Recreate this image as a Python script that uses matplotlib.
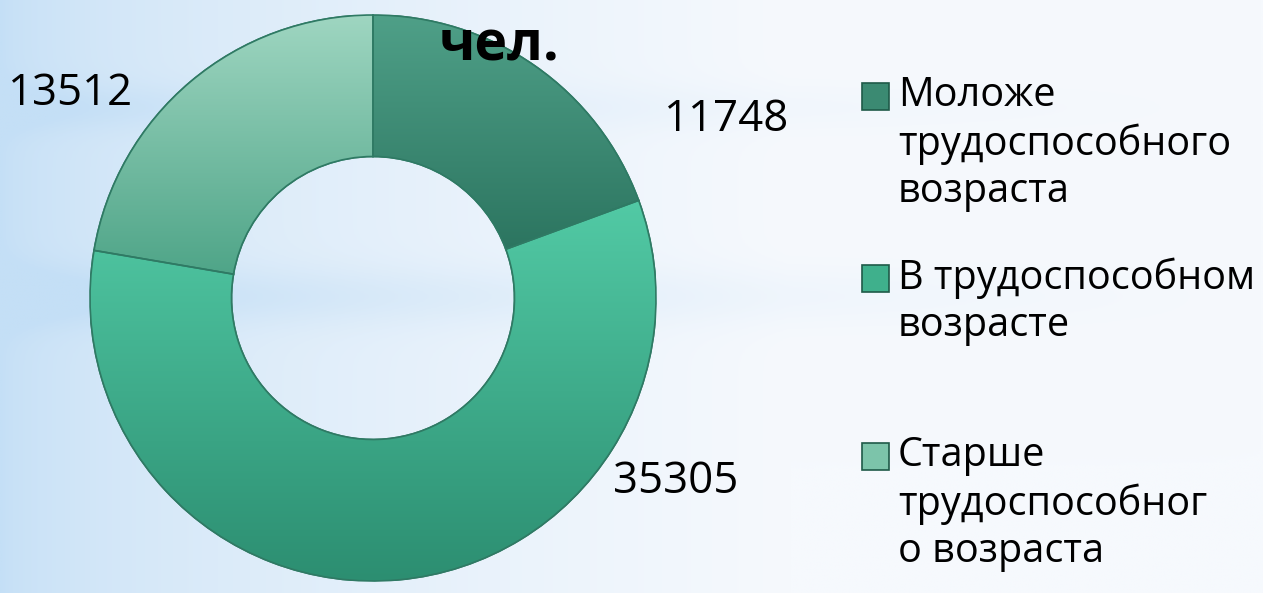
import numpy as np
import matplotlib
matplotlib.use("Agg")
import matplotlib.pyplot as plt
from matplotlib.colors import LinearSegmentedColormap, to_rgb
from matplotlib.patches import Rectangle, Wedge

# --- Données
categories = ["Моложе трудоспособного возраста",
              "В трудоспособном возрасте",
              "Старше трудоспособного возраста"]
legend_labels = ["Моложе\nтрудоспособного\nвозраста",
                 "В трудоспособном\nвозрасте",
                 "Старше\nтрудоспособног\nо возраста"]
values = [11748, 35305, 13512]
title_text = "чел."

# couleurs (haut, bas) pour chaque secteur
top_colors = ["#4fa088", "#52caa5", "#9fd6c1"]
bottom_colors = ["#2c7560", "#2c8e71", "#4fa588"]
legend_colors = ["#3b8a72", "#3fb08c", "#7cc4aa"]

# positions des étiquettes (unités du rayon)
label_pos = [(1.25, 0.63), (1.07, -0.65), (-1.07, 0.72)]

plt.rcParams['font.family'] = ['Open Sans', 'DejaVu Sans']

W, H = 1263, 593
fig = plt.figure(figsize=(W / 100, H / 100), dpi=100)

# --- Fond dégradé
bg = fig.add_axes([0, 0, 1, 1], zorder=-10)
xs = np.linspace(0, 1, 400)
ys = np.linspace(0, 1, 200)
X, Y = np.meshgrid(xs, ys)
t = np.clip(X * 1.6, 0, 1) ** 0.6
band = 0.35 * np.exp(-((Y - 0.50) / 0.05) ** 2) + 0.25 * np.exp(-((Y - 0.82) / 0.04) ** 2)
t = np.clip(t - band * (1 - X), 0, 1)
c0 = np.array(to_rgb("#c4dff6"))
c1 = np.array(to_rgb("#f6f9fd"))
img = c0[None, None, :] * (1 - t[..., None]) + c1[None, None, :] * t[..., None]
bg.imshow(img, aspect="auto", extent=(0, 1, 0, 1), origin="lower")
bg.axis("off")

# --- Anneau
cx, cy, r = 373, 298, 283
ax = fig.add_axes([(cx - r) / W, (H - cy - r) / H, 2 * r / W, 2 * r / H])
wedges, _ = ax.pie(values, startangle=90, counterclock=False, radius=1,
                   colors=legend_colors,
                   wedgeprops=dict(width=0.5, edgecolor="#2f7a64", linewidth=1.2))

for w, ct, cb in zip(wedges, top_colors, bottom_colors):
    bb = w.get_path().get_extents()
    cmap = LinearSegmentedColormap.from_list("g", [cb, ct])
    grad = np.linspace(0, 1, 256).reshape(-1, 1)
    im = ax.imshow(grad, cmap=cmap, aspect="auto", origin="lower",
                   extent=(bb.x0, bb.x1, bb.y0, bb.y1), zorder=w.get_zorder() + 0.1)
    im.set_clip_path(w)
    ax.add_patch(Wedge(w.center, w.r, w.theta1, w.theta2, width=w.width,
                       facecolor="none", edgecolor="#2f7a64", linewidth=1.2,
                       zorder=w.get_zorder() + 0.2))
ax.set_xlim(-1, 1)
ax.set_ylim(-1, 1)
ax.set_aspect("equal")
ax.axis("off")

for v, (lx, ly) in zip(values, label_pos):
    ax.text(lx, ly, str(v), ha="center", va="center", fontsize=31.5,
            color="black", clip_on=False)

# --- Titre (partiellement visible)
fig.text(499 / W, 1 - 46 / H, title_text, ha="center", va="center",
         fontsize=40, fontweight="bold", color="black")

# --- Légende
leg_y = [96, 278, 456]
line_h = 48
for lab, col, y0 in zip(legend_labels, legend_colors, leg_y):
    fig.patches.append(Rectangle((862 / W, 1 - (y0 + 14) / H), 27 / W, 27 / H,
                                 transform=fig.transFigure, facecolor=col,
                                 edgecolor="#1f5a48", linewidth=1.2))
    for i, line in enumerate(lab.split("\n")):
        fig.text(898 / W, 1 - (y0 + i * line_h) / H, line, ha="left",
                 va="center", fontsize=28.5, color="black")

fig.savefig("out.png", dpi=100)
